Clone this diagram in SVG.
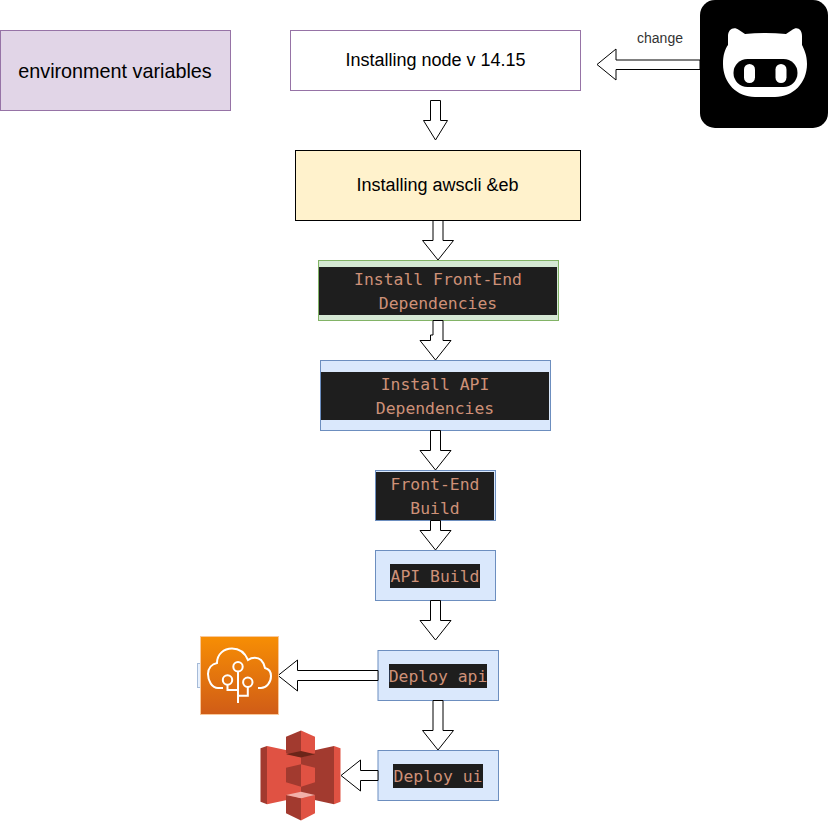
<svg xmlns="http://www.w3.org/2000/svg" width="829" height="821" viewBox="0 0 829 821">
<style>
text{font-family:"Liberation Sans",Arial,sans-serif;text-anchor:middle;fill:#000}
.s{font-size:18px}
.m{font-family:"DejaVu Sans Mono","Liberation Mono",monospace;font-size:16.4px;fill:#ce9178}
.d{fill:#1e1e1e}
.b{fill:#dae8fc;stroke:#6c8ebf}
.p{fill:#fff;stroke:#000;stroke-miterlimit:10}
.w{fill:none;stroke:#fff;stroke-width:2}
</style>
<defs>
<linearGradient id="eb" x1="0" y1="0" x2="0" y2="1"><stop offset="0" stop-color="#f78e04"/><stop offset="1" stop-color="#d05c17"/></linearGradient>
</defs>
<g id="env"><rect x="0.5" y="30.5" width="230" height="80" fill="#e1d5e7" stroke="#9673a6"/><text x="115" y="78" font-size="19.800">environment variables</text></g>
<g id="node"><rect x="290.5" y="30.5" width="290" height="60" fill="#fff" stroke="#9673a6"/><text class="s" x="435.500" y="66">Installing node v 14.15</text></g>
<g id="awscli"><rect x="295.500" y="150.500" width="285" height="70" fill="#fff2cc" stroke="#000"/><text class="s" x="437.500" y="191">Installing awscli &amp;eb</text></g>
<g id="frontdeps"><rect x="318.500" y="260.500" width="240" height="60" fill="#d5e8d4" stroke="#82b366"/><rect class="d" x="319" y="267" width="238" height="48"/><text class="m" x="438" y="285">Install Front-End</text><text class="m" x="438" y="309">Dependencies</text></g>
<g id="apideps"><rect class="b" x="320.500" y="360.500" width="230" height="70"/><rect class="d" x="321" y="372" width="228" height="48"/><text class="m" x="435" y="390">Install API</text><text class="m" x="435" y="414">Dependencies</text></g>
<g id="frontbuild"><rect class="b" x="375.500" y="470.500" width="120" height="50"/><rect class="d" x="376" y="472" width="118" height="48"/><text class="m" x="435" y="490">Front-End</text><text class="m" x="435" y="514">Build</text></g>
<g id="apibuild"><rect class="b" x="375.500" y="550.500" width="120" height="50"/><rect class="d" x="390" y="564" width="90" height="24"/><text class="m" x="435" y="582">API Build</text></g>
<g id="deployapi"><rect class="b" x="378" y="650.500" width="120.500" height="50"/><rect class="d" x="389" y="664" width="98" height="24"/><text class="m" x="438" y="682">Deploy api</text></g>
<g id="deployui"><rect class="b" x="378" y="750.500" width="120.500" height="50"/><rect class="d" x="393" y="764" width="90" height="24"/><text class="m" x="438" y="782">Deploy ui</text></g>
<g id="connectors">
<path class="p" d="M430.500 100.500V120.500H423.500L435.500 140L447.500 120.500H440.500V100.500Z"/>
<path class="p" d="M433 220.500V240.500H422.500L438 260L453.500 240.500H443V220.500Z"/>
<path class="p" d="M433 320.500V335H430.500V340.500H420L435.500 360L451 340.500H443V320.500Z"/>
<path class="p" d="M430.500 430.500V450.500H420L435.500 470L451 450.500H440.500V430.500Z"/>
<path class="p" d="M430.500 520.500V530.500H420L435.500 550L451 530.500H440.500V520.500Z"/>
<path class="p" d="M430.500 600.500V620.500H420L435.500 640L451 620.500H440.500V600.500Z"/>
<path class="p" d="M433 700.500V730.500H422.500L438 750L453.500 730.500H443V700.500Z"/>
<path class="p" d="M378 670.500H297.500V660L278 675.500L297.500 691V680.500H378Z"/>
<path class="p" d="M378 770.500H360.500V760L341 775.500L360.500 791V780.500H378Z"/>
<path class="p" d="M700 60H616V49L597 64.500L616 80V69.500H700Z"/>
<text x="660" y="43" font-size="14" style="fill:#333">change</text>
</g>
<g id="pig">
<rect x="700" y="0" width="128" height="128" rx="15" fill="#000"/>
<path fill="#fff" d="M728 36C728 29 734 26 739 30L745 34Q765 32 786 34L792 30C797 26 802 29 802 36V45C804 49 807 55 807 64C807 83 793 97 775 97H755C737 97 723 83 723 64C723 55 725 49 728 45Z"/>
<rect x="733.500" y="59" width="64" height="28" rx="14" fill="#000"/>
<rect x="744" y="64" width="11" height="19" rx="5.500" fill="#fff"/>
<rect x="775.500" y="64" width="11" height="19" rx="5.500" fill="#fff"/>
</g>
<g id="beanstalk">
<rect class="b" x="197.500" y="663.500" width="10" height="24" opacity=".6"/>
<rect x="200.500" y="636.500" width="78" height="78" fill="url(#eb)" stroke="#f9c89a" stroke-width="1"/>
<path class="w" d="M223 688H218C212 688 208 681 208 674C208 668 212 664 217 663C217 654 224 648.500 232 648.500C239 648.500 245 653 248 660C252 657 258 657 261 660C263 662 264.500 665 265 668C269 669 271 672 271 676C271 683 266 688 261 688H258"/>
<circle class="w" cx="238" cy="666.700" r="4.700"/><circle class="w" cx="227.500" cy="680" r="4.700"/><circle class="w" cx="247.800" cy="682.300" r="4.700"/>
<path class="w" d="M238 671.500V703M227.500 684.700V690H238M247.800 687V695.700H238"/>
</g>
<g id="s3">
<path fill="#a23a2f" d="M260.500 748.300L267 746V804.300L260.500 801.700Z"/>
<path fill="#e05243" d="M267 746L301 753.300V797L267 804.300Z"/>
<path fill="#a23a2f" d="M334 746L301 753.300V797L334 804.300Z"/>
<path fill="#e05243" d="M334 746L340.500 748.300V801.700L334 804.300Z"/>
<path fill="#a23a2f" d="M286 736.700L301 730.500V757.300L286 753.300Z"/>
<path fill="#e05243" d="M315 736.700L301 730.500V757.300L315 753.300Z"/>
<path fill="#6b2519" d="M286 754.300L301 751L315 754.300L301 757.500Z"/>
<path fill="#a23a2f" d="M286 767.700L301 764.300V786.700L286 782.300Z"/>
<path fill="#e05243" d="M315 767.700L301 764.300V786.700L315 782.300Z"/>
<path fill="#a23a2f" d="M286 795L301 798V820.500L286 813.300Z"/>
<path fill="#e05243" d="M315 795L301 798V820.500L315 813.300Z"/>
<path fill="#f2b0a9" d="M286 795L301 791.700L315 795L301 798.300Z"/>
</g>
</svg>
